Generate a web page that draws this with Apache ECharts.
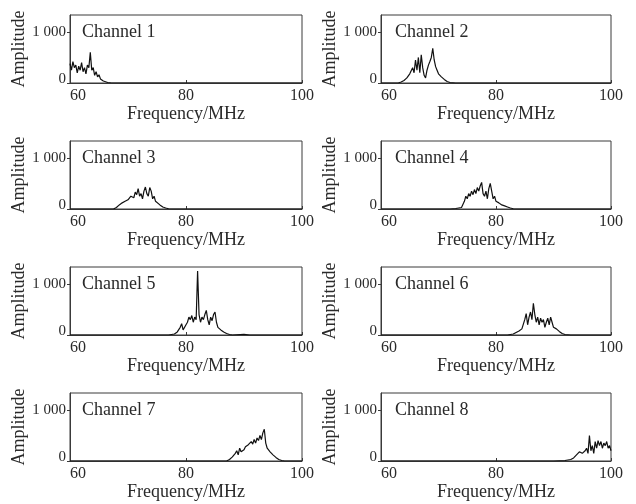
<!DOCTYPE html>
<html>
<head>
<meta charset="utf-8">
<script src="https://cdn.jsdelivr.net/npm/echarts@6/dist/echarts.min.js"></script>
<style>html,body{margin:0;padding:0;background:#fff}#c{width:636px;height:504px}</style>
</head>
<body>
<div id="c"></div>
<script>
const xTicks = [60, 80, 100];
const yTickLabels = {0: '0', 1000: '1 000'};
const channelNames = ['Channel 1','Channel 2','Channel 3','Channel 4','Channel 5','Channel 6','Channel 7','Channel 8'];

const ch1F = [60,60.25,60.5,60.75,61,61.25,61.5,61.75,62,62.25,62.5,62.75,63,63.25,63.5,63.75,64,64.25,64.5,64.75,65,65.25,65.5,65.75,66,66.5,67,70,100];
const ch1A = [380,250,420,300,350,200,330,250,400,220,300,180,350,300,600,250,300,150,220,120,160,80,90,40,30,10,5,0,0];

const ch2F = [60,63,63.5,64,64.5,65,65.5,65.75,66,66.25,66.5,66.75,67,67.25,67.5,67.75,68,68.25,68.5,68.75,69,69.25,69.5,69.75,70,70.5,71,71.5,72,73,100];
const ch2A = [0,0,20,50,100,180,300,200,450,250,500,200,550,300,150,100,250,350,420,500,680,450,320,250,180,120,70,30,10,0,0];

const ch3F = [60,67.5,68,68.5,69,69.5,70,70.5,71,71.25,71.5,71.75,72,72.25,72.5,72.75,73,73.25,73.5,73.75,74,74.25,74.5,74.75,75,75.5,76,76.5,77,78,100];
const ch3A = [0,0,30,80,120,150,180,250,220,330,280,400,250,300,200,350,430,300,250,420,350,200,250,150,120,80,40,20,5,0,0];

const ch4F = [60,72,73,74,74.5,74.75,75,75.25,75.5,75.75,76,76.25,76.5,76.75,77,77.25,77.5,77.75,78,78.25,78.5,78.75,79,79.25,79.5,79.75,80,80.5,81,81.5,82,82.5,83,84,100];
const ch4A = [0,0,10,30,150,250,200,300,250,350,280,380,300,420,350,450,520,300,250,350,200,400,500,350,200,250,150,120,80,60,40,20,5,0,0];

const ch5F = [60,77,78,78.5,79,79.25,79.5,79.75,80,80.25,80.5,80.75,81,81.25,81.5,81.75,82,82.25,82.5,82.75,83,83.25,83.5,83.75,84,84.25,84.5,84.75,85,85.25,85.5,86,86.5,87,87.5,88,90,91,100];
const ch5A = [0,0,20,60,150,220,100,80,200,250,350,300,380,250,350,300,1250,400,250,350,300,400,480,300,200,350,280,400,450,250,150,100,60,30,10,0,15,0,0];

const ch6F = [60,82,83,83.5,84,84.5,85,85.25,85.5,85.75,86,86.25,86.5,86.75,87,87.25,87.5,87.75,88,88.25,88.5,88.75,89,89.25,89.5,89.75,90,90.5,91,91.5,92,93,100];
const ch6A = [0,0,20,50,80,120,300,420,200,350,450,300,620,400,250,350,200,330,250,300,150,250,330,200,350,250,150,120,70,30,10,0,0];

const ch7F = [60,87,87.5,88,88.5,88.75,89,89.25,89.5,90,90.25,90.5,90.75,91,91.25,91.5,91.75,92,92.25,92.5,92.75,93,93.25,93.5,93.75,94,94.5,95,95.5,96,96.5,97,100];
const ch7A = [0,0,30,80,150,200,120,250,180,220,280,250,320,300,380,330,420,350,450,400,500,420,550,620,350,250,180,120,70,30,10,0,0];

const ch8F = [60,90,92,93,93.5,94,94.5,95,95.5,95.75,96,96.25,96.5,96.75,97,97.25,97.5,97.75,98,98.25,98.5,98.75,99,99.25,99.5,99.75,100];
const ch8A = [0,0,10,30,60,120,180,150,200,250,150,500,200,300,150,380,250,400,300,380,250,350,300,380,250,300,200];

const channelsF = [ch1F, ch2F, ch3F, ch4F, ch5F, ch6F, ch7F, ch8F];
const channelsA = [ch1A, ch2A, ch3A, ch4A, ch5A, ch6A, ch7A, ch8A];

const FONT = '"Liberation Serif", "Times New Roman", serif';
const TXT = '#2a2a2a';
const LINE = '#3a3a3a';

const grids = [], xAxes = [], yAxes = [], series = [], titles = [];
for (let i = 0; i < 8; i++) {
  const col = i % 2, row = Math.floor(i / 2);
  const left = col === 0 ? 70 : 381;
  const width = col === 0 ? 232 : 230;
  const top = 15 + row * 126;
  grids.push({left: left, top: top, width: width, height: 68, show: true, borderColor: LINE, borderWidth: 1, backgroundColor: 'transparent'});
  xAxes.push({
    type: 'value', gridIndex: i, min: xTicks[0], max: xTicks[xTicks.length - 1], interval: 20,
    name: 'Frequency/MHz', nameLocation: 'middle', nameGap: 14,
    nameTextStyle: {fontFamily: FONT, fontSize: 18, color: TXT},
    axisLine: {show: true, lineStyle: {color: LINE, width: 1}},
    axisTick: {show: true, inside: true, length: 3, lineStyle: {color: LINE}},
    axisLabel: {fontFamily: FONT, fontSize: 16, color: TXT, margin: 5, alignMinLabel: 'left'},
    splitLine: {show: false}
  });
  yAxes.push({
    type: 'value', gridIndex: i, min: 0, max: 1330, interval: 1000,
    name: 'Amplitude', nameLocation: 'middle', nameGap: 41, nameRotate: 90,
    nameTextStyle: {fontFamily: FONT, fontSize: 18, color: TXT},
    axisLine: {show: true, lineStyle: {color: LINE, width: 1}},
    axisTick: {show: true, inside: false, length: 3, lineStyle: {color: LINE}},
    axisLabel: {
      fontFamily: FONT, fontSize: 15, color: TXT, margin: 4, showMaxLabel: false,
      formatter: function (v) { if (v === 0) return '{z|0}'; return yTickLabels[v] || ''; },
      rich: {z: {fontFamily: FONT, fontSize: 15, color: TXT, padding: [0, 0, 8, 0]}}
    },
    splitLine: {show: false}
  });
  const F = channelsF[i], A = channelsA[i];
  const n = Math.min(F.length, A.length);
  const data = [];
  for (let k = 0; k < n; k++) data.push([F[k], A[k]]);
  series.push({
    type: 'line', xAxisIndex: i, yAxisIndex: i, data: data, showSymbol: false, symbol: 'none',
    lineStyle: {color: '#111', width: 1.2}, animation: false, silent: true
  });
  titles.push({
    text: channelNames[i], left: (col === 0 ? 82 : 395), top: 23 + row * 126, padding: 0,
    textStyle: {fontFamily: FONT, fontSize: 18, fontWeight: 'normal', color: TXT}
  });
}

const chart = echarts.init(document.getElementById('c'), null, {renderer: 'canvas'});
chart.setOption({
  backgroundColor: '#fff',
  animation: false,
  title: titles,
  grid: grids,
  xAxis: xAxes,
  yAxis: yAxes,
  series: series
});
</script>
</body>
</html>
